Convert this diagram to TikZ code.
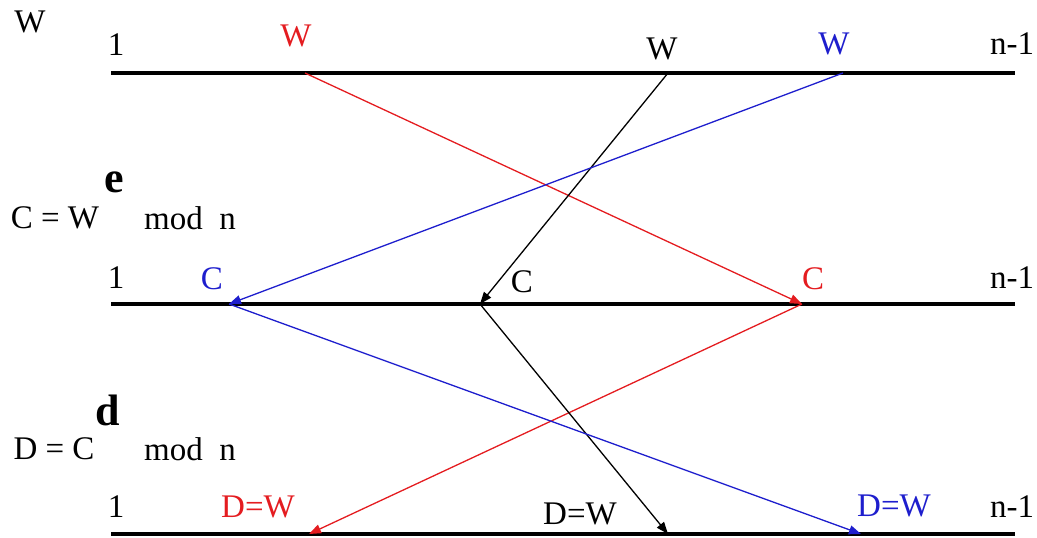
\documentclass[tikz,border=0pt]{standalone}
\usepackage{fontspec}
\setmainfont{Liberation Serif}
\usetikzlibrary{arrows.meta}
\definecolor{rsaRed}{RGB}{228,28,32}
\definecolor{rsaBlue}{RGB}{30,30,205}
\newcommand{\rsaText}{\fontsize{33}{38}\selectfont}
\newcommand{\rsaExp}{\fontsize{44}{50}\selectfont\bfseries}
\begin{document}
\begin{tikzpicture}[x=1pt,y=-1pt,
  lbl/.style={inner sep=0pt, font=\rsaText},
  expo/.style={inner sep=0pt, font=\rsaExp},
  axis/.style={line width=3.5pt},
  msg/.style={line width=1.3pt, -{Triangle[length=12pt,width=9pt]}}]
\useasboundingbox (0,0) rectangle (1037,538);
% the three number ranges
\draw[axis] (111,73) -- (1015,73);
\draw[axis] (111,304) -- (1015,304);
\draw[axis] (111,534) -- (1015,534);
% top row
\node[lbl] (wTitle) at (30,22) {W};
\node[lbl] (oneA) at (116,45) {1};
\node[lbl, text=rsaRed] (wRed) at (296,36) {W};
\node[lbl] (wBlack) at (662,49) {W};
\node[lbl, text=rsaBlue] (wBlue) at (834,44) {W};
\node[lbl] (nA) at (1012,44) {n-1};
% encryption
\node[lbl] (encL) at (55,218) {C = W};
\node[expo] (encE) at (114,182) {e};
\node[lbl] (encM) at (190,218) {mod\enspace n};
% middle row
\node[lbl] (oneB) at (116,278) {1};
\node[lbl, text=rsaBlue] (cBlue) at (212,279) {C};
\node[lbl] (cBlack) at (522,282) {C};
\node[lbl, text=rsaRed] (cRed) at (813,279) {C};
\node[lbl] (nB) at (1012,278) {n-1};
% decryption
\node[lbl] (decL) at (54,449) {D = C};
\node[expo] (decD) at (108,410) {d};
\node[lbl] (decM) at (190,449) {mod\enspace n};
% bottom row
\node[lbl] (oneC) at (116,507) {1};
\node[lbl, text=rsaRed] (dRed) at (258,507) {D=W};
\node[lbl] (dBlack) at (580,514) {D=W};
\node[lbl, text=rsaBlue] (dBlue) at (894,506) {D=W};
\node[lbl] (nC) at (1012,507) {n-1};
% points on the ranges
\coordinate (pRedA) at (305,73);
\coordinate (pBlackA) at (668,73);
\coordinate (pBlueA) at (843,73);
\coordinate (pBlueB) at (229,304);
\coordinate (pBlackB) at (480,304);
\coordinate (pRedB) at (802,304);
\coordinate (pRedC) at (309,534);
\coordinate (pBlackC) at (668,534);
\coordinate (pBlueC) at (861,534);
% messages
\draw[msg, rsaRed] (pRedA) -- (pRedB);
\draw[msg] (pBlackA) -- (pBlackB);
\draw[msg, rsaBlue] (pBlueA) -- (pBlueB);
\draw[msg, rsaRed] (pRedB) -- (pRedC);
\draw[msg] (pBlackB) -- (pBlackC);
\draw[msg, rsaBlue] (pBlueB) -- (pBlueC);
\end{tikzpicture}
\end{document}
